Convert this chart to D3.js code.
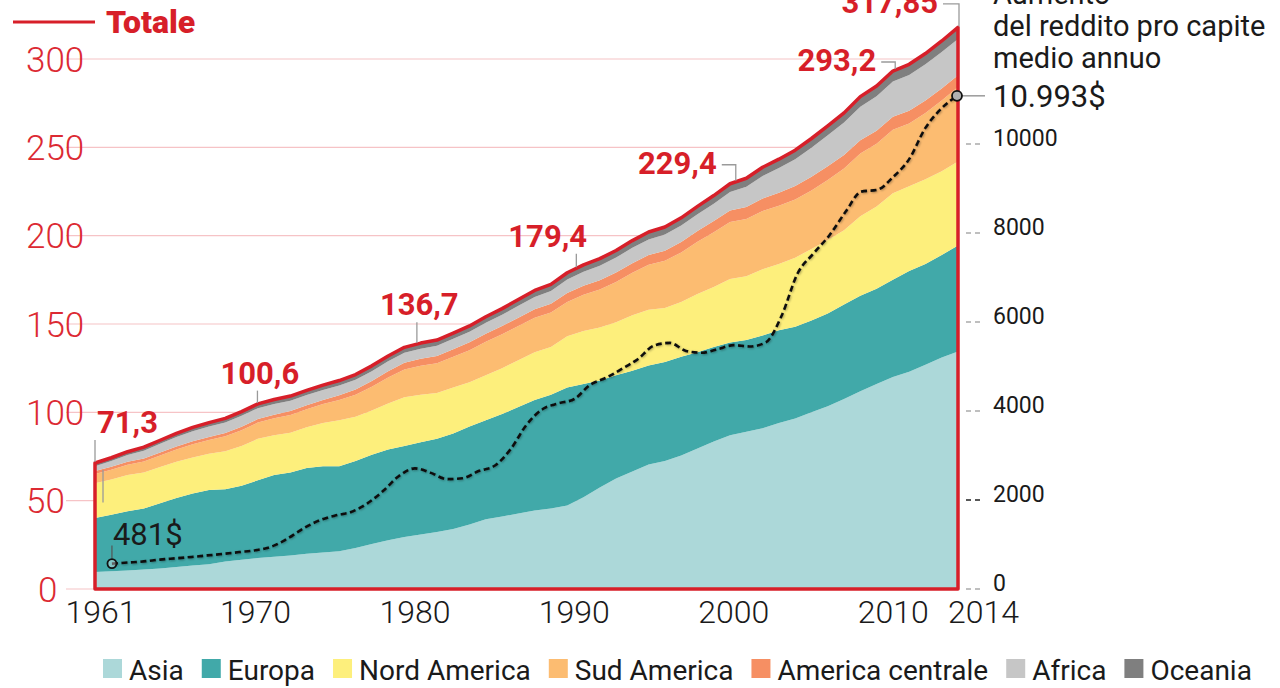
<!DOCTYPE html>
<html>
<head>
<meta charset="utf-8">
<script src="https://cdn.jsdelivr.net/npm/d3@7/dist/d3.min.js"></script>
<style>
  body { margin: 0; background: #fff; }
  svg { display: block; font-family: Roboto, "Noto Sans", sans-serif; }
</style>
</head>
<body>
<script>
// anni 1961-2014, milioni di tonnellate per area
const years = d3.range(1961, 2015);

const asia = [9.6,10.0,10.5,11.0,11.6,12.4,13.3,14.0,15.5,16.5,
  17.5,18.3,19.0,20.0,20.6,21.3,23.2,25.5,27.6,29.4,
  30.8,32.3,34.0,36.5,39.5,41.0,42.8,44.5,45.6,47.2,
  52.0,57.5,62.5,66.5,70.5,72.5,75.5,79.5,83.5,87.0,
  89.0,91.0,94.0,96.5,100.0,103.5,107.5,112.0,116.0,120.0,
  123.0,127.0,131.0,134.5];
const europa = [30.6,32.0,33.5,34.5,36.9,39.1,40.7,42.0,41.0,42.0,
  44.0,46.2,47.0,48.5,48.9,48.2,49.3,50.5,51.4,51.6,
  52.2,52.7,54.0,55.5,56.0,58.0,60.2,62.5,64.4,66.8,
  64.0,60.5,58.5,57.0,56.0,56.0,56.0,54.5,53.5,52.5,
  52.0,52.5,52.5,52.0,52.0,52.5,53.5,54.0,54.0,55.0,
  57.0,57.0,58.0,60.0];
const nordAmerica = [19.7,20.0,20.5,20.5,20.5,20.5,20.5,20.5,21.5,22.5,
  23.5,22.5,22.5,23.0,24.5,26.0,25.0,25.0,26.0,27.5,
  27.0,26.0,26.0,25.0,25.5,26.0,26.5,27.0,27.0,29.0,
  30.0,30.0,30.0,31.5,31.5,30.5,31.0,33.0,34.0,36.0,
  36.0,37.5,37.5,39.0,40.5,41.5,42.0,45.0,46.5,49.0,
  48.0,48.0,47.5,47.5];
const sudAmerica = [5.2,5.5,5.8,6.2,6.6,7.0,7.4,7.8,8.4,8.8,
  9.2,9.6,10.0,10.3,10.7,11.5,12.5,13.5,14.7,15.7,
  16.3,16.8,17.5,18.2,19.0,19.2,19.4,19.5,19.5,19.5,
  20.5,21.5,22.8,24.0,25.5,26.8,28.0,29.5,31.0,32.3,
  32.5,33.0,33.0,33.0,33.0,34.0,35.0,35.5,35.5,36.0,
  35.5,37.5,40.0,42.15];
const americaCentrale = [1.7,1.7,1.7,1.7,1.7,1.7,1.7,1.8,1.9,2.0,
  2.0,2.1,2.2,2.2,2.3,2.6,2.9,3.2,3.6,3.9,
  4.0,4.1,4.2,4.4,4.5,4.6,4.7,4.8,4.9,5.0,
  5.1,5.2,5.3,5.4,5.5,5.7,5.9,6.1,6.3,6.4,
  6.7,7.0,7.3,7.6,7.8,7.8,7.7,7.5,7.4,7.3,
  7.2,7.0,6.8,6.6];
const africa = [2.7,3.2,3.8,4.4,4.9,5.3,5.7,5.9,6.0,6.2,
  6.1,6.0,5.9,5.8,5.7,5.6,5.6,5.6,5.6,5.6,
  5.7,5.8,5.9,6.0,6.2,6.4,6.7,7.0,7.3,7.7,
  8.0,8.3,8.5,8.7,8.9,9.1,9.3,9.5,9.8,10.5,
  11.5,12.8,14.0,15.2,16.5,17.5,18.3,19.0,19.5,20.0,
  20.3,20.5,20.6,20.6];
const oceania = [1.8,1.9,1.9,2.0,2.0,2.1,2.2,2.2,2.3,2.4,
  2.5,2.6,2.6,2.6,2.7,2.8,2.9,3.0,3.0,3.1,
  3.2,3.2,3.2,3.3,3.4,3.5,3.6,3.7,3.7,3.8,
  3.9,4.0,4.0,4.1,4.2,4.3,4.4,4.5,4.6,4.7,
  4.8,4.9,5.0,5.1,5.2,5.3,5.5,5.7,5.8,5.9,
  6.0,6.1,6.3,6.5];

// reddito pro capite medio annuo ($)
const reddito = [481,505,530,570,600,630,665,700,740,780,
  860,1040,1270,1450,1560,1640,1830,2110,2450,2620,
  2520,2380,2400,2560,2680,3050,3600,3950,4080,4180,
  4500,4660,4860,5080,5380,5440,5260,5220,5300,5390,
  5360,5450,6050,7000,7450,7860,8380,8840,8880,9170,
  9570,10260,10700,10993];

const regions = ["Asia", "Europa", "Nord America", "Sud America", "America centrale", "Africa", "Oceania"];
const regionColors = ["#acd8d9", "#41a9a9", "#fdef7c", "#fcbc71", "#f68f63", "#c6c6c6", "#7f7f7f"];
const series = [asia, europa, nordAmerica, sudAmerica, americaCentrale, africa, oceania];

const leftTicks = [0, 50, 100, 150, 200, 250, 300];
const rightTicks = [0, 2000, 4000, 6000, 8000, 10000];
const xTicks = [1961, 1970, 1980, 1990, 2000, 2010, 2014];
const labelYears = [1961, 1970, 1980, 1990, 2000, 2010, 2014];
const labelTexts = ["71,3", "100,6", "136,7", "179,4", "229,4", "293,2", "317,85"];
const incomeTitle = ["Aumento", "del reddito pro capite", "medio annuo"];
const incomeLabels = ["481$", "10.993$"];

const RED = "#d71f29";
const INK = "#1a1a1a";

let svg = d3.select("body").append("svg")
  .attr("width", 1280)
  .attr("height", 688);

let xArea = d3.scaleLinear().domain([1961, 2014]).range([95, 958]);
let xAxis = d3.scaleLinear().domain([1960, 2014]).range([96, 957]);
let y = d3.scaleLinear().domain([0, 300]).range([589, 59]);
let y2 = d3.scaleLinear().domain([0, 10000]).range([585, 140]);

let rows = years.map((yr, i) => {
  let r = { year: yr };
  regions.forEach((k, j) => r[k] = series[j][i]);
  return r;
});
let totals = years.map((_, i) => d3.sum(series, s => s[i]));

let totalAt = px => {
  let t = xArea.invert(px);
  let i = Math.max(0, Math.min(years.length - 2, Math.floor(t - years[0])));
  let f = Math.max(0, Math.min(1, t - years[i]));
  return totals[i] + (totals[i + 1] - totals[i]) * f;
};

// griglia
svg.append("g").selectAll("line")
  .data(leftTicks)
  .join("line")
  .attr("x1", 66).attr("x2", xArea(2014))
  .attr("y1", d => y(d)).attr("y2", d => y(d))
  .attr("stroke", "#f6c3c6")
  .attr("stroke-width", 1.2);

// aree impilate
let stack = d3.stack().keys(regions)(rows);
let area = d3.area()
  .x(d => xArea(d.data.year))
  .y0(d => y(d[0]))
  .y1(d => y(d[1]));

svg.append("g").selectAll("path")
  .data(stack)
  .join("path")
  .attr("d", area)
  .attr("fill", (d, i) => regionColors[i]);

// contorno totale
let outline = d3.area()
  .x((d, i) => xArea(years[i]))
  .y0(y(0))
  .y1(d => y(d));
svg.append("path")
  .datum(totals)
  .attr("d", outline)
  .attr("fill", "none")
  .attr("stroke", RED)
  .attr("stroke-width", 3.5)
  .attr("stroke-linejoin", "round");

// linea reddito
let defs = svg.append("defs");
defs.append("filter").attr("id", "shadow")
  .attr("x", "-5%").attr("y", "-5%").attr("width", "110%").attr("height", "110%")
  .append("feDropShadow")
  .attr("dx", 0.8).attr("dy", 0.8)
  .attr("stdDeviation", 1.2)
  .attr("flood-color", "#000")
  .attr("flood-opacity", 0.35);

let incomeLine = d3.line()
  .x((d, i) => xAxis(years[i]))
  .y(d => y2(d))
  .curve(d3.curveMonotoneX);

svg.append("path")
  .datum(reddito)
  .attr("d", incomeLine)
  .attr("fill", "none")
  .attr("stroke", "#111")
  .attr("stroke-width", 2.6)
  .attr("stroke-dasharray", "6,3.5")
  .attr("filter", "url(#shadow)");

let p0 = [xAxis(years[0]), y2(reddito[0])];
let p1 = [xAxis(years[years.length - 1]), y2(reddito[reddito.length - 1])];

let leaderGrey = "#9a9a9a";
svg.append("line")
  .attr("x1", p0[0]).attr("x2", p0[0])
  .attr("y1", p0[1] - 5).attr("y2", p0[1] - 18)
  .attr("stroke", "#555").attr("stroke-width", 1.2);
svg.append("line")
  .attr("x1", p1[0] + 5).attr("x2", p1[0] + 28)
  .attr("y1", p1[1]).attr("y2", p1[1])
  .attr("stroke", leaderGrey).attr("stroke-width", 1.5);

svg.append("circle")
  .attr("cx", p0[0]).attr("cy", p0[1]).attr("r", 4.5)
  .attr("fill", "rgba(255,255,255,0.35)")
  .attr("stroke", "#111").attr("stroke-width", 1.8);
svg.append("circle")
  .attr("cx", p1[0]).attr("cy", p1[1]).attr("r", 5)
  .attr("fill", "#b0b0b0")
  .attr("stroke", "#111").attr("stroke-width", 1.8);

svg.append("text")
  .attr("x", p0[0] + 1).attr("y", p0[1] - 19)
  .attr("font-size", 31).attr("fill", INK)
  .text(incomeLabels[0]);
svg.append("text")
  .attr("x", p1[0] + 36).attr("y", p1[1] + 11)
  .attr("font-size", 31).attr("fill", INK)
  .text(incomeLabels[1]);

svg.append("g").selectAll("text")
  .data(incomeTitle)
  .join("text")
  .attr("x", p1[0] + 36)
  .attr("y", (d, i) => 4 + i * 32)
  .attr("font-size", 29)
  .attr("fill", INK)
  .text(d => d);

// etichette del totale
let labelLayout = [
  { anchor: "start", dx: -15, dy: -30, leader: "v" },
  { anchor: "start", dx: -35, dy: -28, leader: "v" },
  { anchor: "start", dx: -35, dy: -32, leader: "v" },
  { anchor: "start", dx: -66, dy: -26, leader: "v" },
  { anchor: "end", dx: -17, dy: -10, leader: "elbow" },
  { anchor: "end", dx: -17, dy: 0, leader: "elbow" },
  { anchor: "end", dx: -19, dy: -14.5, leader: "elbow" }
];

let leaders = svg.append("g")
  .attr("stroke", leaderGrey)
  .attr("stroke-width", 1.3)
  .attr("fill", "none");

labelYears.forEach((yr, i) => {
  let L = labelLayout[i];
  let v = totals[years.indexOf(yr)];
  let tx = xAxis(yr) + L.dx;
  let ty = y(v) + L.dy;
  let lx = i === 0 ? xArea(yr) : xAxis(yr) + 2;
  if (L.leader === "v") {
    leaders.append("line")
      .attr("x1", lx).attr("x2", lx)
      .attr("y1", ty + 7).attr("y2", y(totalAt(lx)) - 1);
  } else {
    let hy = ty - 9;
    leaders.append("path")
      .attr("d", `M${tx + 5},${hy}H${lx}V${y(totalAt(lx)) - 1}`);
  }
  svg.append("text")
    .attr("x", tx).attr("y", ty)
    .attr("text-anchor", L.anchor)
    .attr("font-size", 31)
    .attr("font-weight", 700)
    .attr("fill", RED)
    .text(labelTexts[i]);
});

// secondo tratto del richiamo 1961
leaders.append("line")
  .attr("x1", xArea(1961) + 8).attr("x2", xArea(1961) + 8)
  .attr("y1", y(totals[0]) + 7).attr("y2", y(49));

// asse sinistro
svg.append("g").selectAll("text")
  .data(leftTicks)
  .join("text")
  .attr("x", d => d === 0 ? 38 : 26)
  .attr("y", d => y(d))
  .attr("dy", "0.36em")
  .attr("font-size", 35)
  .attr("font-weight", 300)
  .attr("fill", "#dc2a33")
  .text(d => d);

// asse destro
let rx = xArea(2014);
let rAxis = svg.append("g");
rAxis.selectAll("line")
  .data(rightTicks)
  .join("line")
  .attr("x1", rx + 8).attr("x2", rx + 23)
  .attr("y1", d => y2(d) + 4).attr("y2", d => y2(d) + 4)
  .attr("stroke", d => d === 2000 ? "#222" : "#aaa")
  .attr("stroke-width", 1.3)
  .attr("stroke-dasharray", "5,4");
rAxis.selectAll("text")
  .data(rightTicks)
  .join("text")
  .attr("x", rx + 35)
  .attr("y", d => y2(d) - 2)
  .attr("dy", "0.36em")
  .attr("font-size", 23)
  .attr("fill", INK)
  .text(d => d);

// asse x
svg.append("g").selectAll("text")
  .data(xTicks)
  .join("text")
  .attr("x", (d, i) => i === 0 ? xArea(d) + 6 : (i === xTicks.length - 1 ? xAxis(d) - 9 : xAxis(d)))
  .attr("y", 623)
  .attr("text-anchor", (d, i) => i === xTicks.length - 1 ? "start" : "middle")
  .attr("font-size", 32)
  .attr("font-weight", 300)
  .attr("fill", INK)
  .text(d => d);

// legenda "Totale"
svg.append("line")
  .attr("x1", 13).attr("x2", 95)
  .attr("y1", 22).attr("y2", 22)
  .attr("stroke", RED).attr("stroke-width", 3);
svg.append("text")
  .attr("x", 106).attr("y", 33)
  .attr("font-size", 32).attr("font-weight", 900)
  .attr("fill", RED)
  .text("Totale");

// legenda regioni
let lx = 103;
let legend = svg.append("g");
regions.forEach((r, i) => {
  legend.append("rect")
    .attr("x", lx).attr("y", 659)
    .attr("width", 19).attr("height", 19)
    .attr("fill", regionColors[i]);
  let t = legend.append("text")
    .attr("x", lx + 26).attr("y", 680)
    .attr("font-size", 28)
    .attr("fill", INK)
    .text(r);
  lx += 26 + t.node().getComputedTextLength() + 18;
});
</script>
</body>
</html>
